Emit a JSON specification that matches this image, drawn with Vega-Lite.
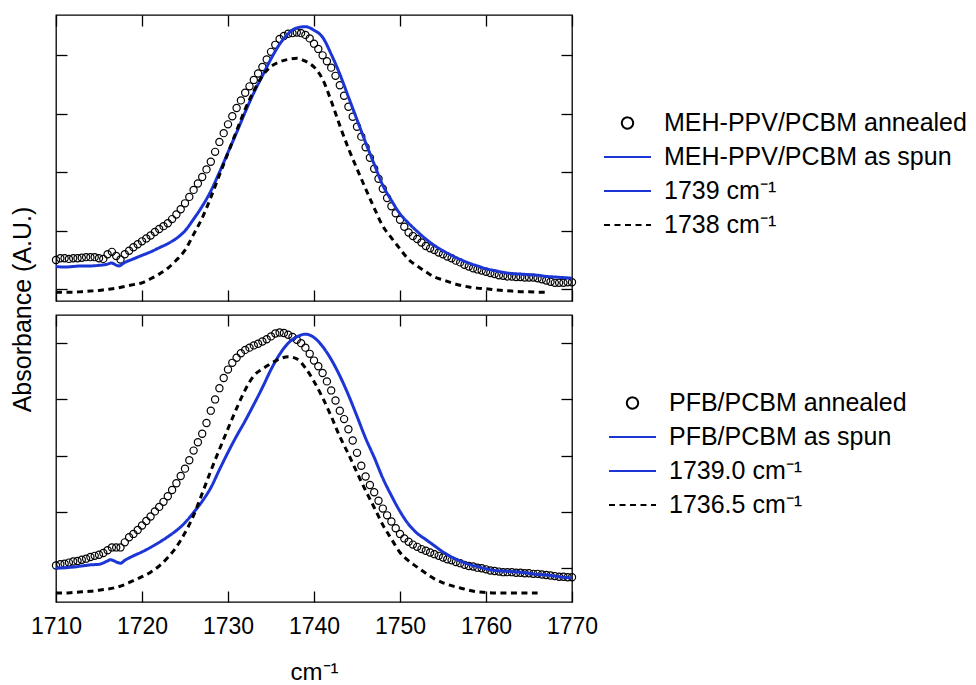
{
  "$schema": "https://vega.github.io/schema/vega-lite/v6.json",
  "padding": {"left": 9, "top": 13, "right": 5, "bottom": 5},
  "background": "white",
  "bounds": "flush",
  "spacing": 14,
  "config": {
    "font": "Liberation Sans",
    "view": {"stroke": "black", "strokeWidth": 1.3},
    "axis": {"domain": false, "grid": false, "ticks": true, "tickSize": -11, "tickColor": "black", "tickWidth": 1.3, "labelFont": "Liberation Sans", "labelFontSize": 23, "labelColor": "black", "titleFont": "Liberation Sans", "titleFontWeight": "normal", "titleColor": "black", "minExtent": 0, "labelFlush": false, "labelOverlap": false, "format": "d"},
    "legend": {"padding": 0, "labelFont": "Liberation Sans", "labelFontSize": 25, "labelColor": "black", "labelLimit": 400, "labelOffset": 12, "rowPadding": 8, "clipHeight": 25, "symbolSize": 2209, "symbolStrokeWidth": 2, "symbolFillColor": "transparent", "symbolOpacity": 1, "title": null}
  },
  "resolve": {"scale": {"color": "independent", "shape": "independent", "strokeDash": "independent", "x": "independent", "y": "independent"}, "legend": {"color": "independent", "shape": "independent", "strokeDash": "independent"}},
  "datasets": {
    "topAnnealed": [
      {"x":1710,"y":0.50},{"x":1710.5,"y":0.53},{"x":1711,"y":0.53},{"x":1711.5,"y":0.52},{"x":1712,"y":0.53},{"x":1712.5,"y":0.53},{"x":1713,"y":0.54},{"x":1713.5,"y":0.55},{"x":1714,"y":0.55},{"x":1714.5,"y":0.55},
      {"x":1715,"y":0.53},{"x":1715.5,"y":0.52},{"x":1716,"y":0.60},{"x":1716.5,"y":0.64},{"x":1717,"y":0.57},{"x":1717.5,"y":0.51},{"x":1718,"y":0.60},{"x":1718.5,"y":0.66},{"x":1719,"y":0.72},{"x":1719.5,"y":0.77},
      {"x":1720,"y":0.82},{"x":1720.5,"y":0.87},{"x":1721,"y":0.92},{"x":1721.5,"y":0.98},{"x":1722,"y":1.03},{"x":1722.5,"y":1.08},{"x":1723,"y":1.13},{"x":1723.5,"y":1.20},{"x":1724,"y":1.28},{"x":1724.5,"y":1.37},
      {"x":1725,"y":1.47},{"x":1725.5,"y":1.58},{"x":1726,"y":1.70},{"x":1726.5,"y":1.81},{"x":1727,"y":1.92},{"x":1727.5,"y":2.05},{"x":1728,"y":2.18},{"x":1728.5,"y":2.35},{"x":1729,"y":2.52},{"x":1729.5,"y":2.67},
      {"x":1730,"y":2.82},{"x":1730.5,"y":2.96},{"x":1731,"y":3.10},{"x":1731.5,"y":3.23},{"x":1732,"y":3.36},{"x":1732.5,"y":3.47},{"x":1733,"y":3.58},{"x":1733.5,"y":3.69},{"x":1734,"y":3.80},{"x":1734.5,"y":3.93},
      {"x":1735,"y":4.06},{"x":1735.5,"y":4.18},{"x":1736,"y":4.28},{"x":1736.5,"y":4.33},{"x":1737,"y":4.37},{"x":1737.5,"y":4.38},{"x":1738,"y":4.39},{"x":1738.5,"y":4.38},{"x":1739,"y":4.35},{"x":1739.5,"y":4.29},
      {"x":1740,"y":4.20},{"x":1740.5,"y":4.11},{"x":1741,"y":4.00},{"x":1741.5,"y":3.90},{"x":1742,"y":3.79},{"x":1742.5,"y":3.65},{"x":1743,"y":3.49},{"x":1743.5,"y":3.31},{"x":1744,"y":3.12},{"x":1744.5,"y":2.95},
      {"x":1745,"y":2.78},{"x":1745.5,"y":2.61},{"x":1746,"y":2.43},{"x":1746.5,"y":2.25},{"x":1747,"y":2.06},{"x":1747.5,"y":1.89},{"x":1748,"y":1.72},{"x":1748.5,"y":1.56},{"x":1749,"y":1.42},{"x":1749.5,"y":1.30},
      {"x":1750,"y":1.19},{"x":1750.5,"y":1.07},{"x":1751,"y":0.97},{"x":1751.5,"y":0.91},{"x":1752,"y":0.86},{"x":1752.5,"y":0.80},{"x":1753,"y":0.74},{"x":1753.5,"y":0.70},{"x":1754,"y":0.67},{"x":1754.5,"y":0.63},
      {"x":1755,"y":0.60},{"x":1755.5,"y":0.56},{"x":1756,"y":0.53},{"x":1756.5,"y":0.49},{"x":1757,"y":0.46},{"x":1757.5,"y":0.42},{"x":1758,"y":0.39},{"x":1758.5,"y":0.36},{"x":1759,"y":0.34},{"x":1759.5,"y":0.32},
      {"x":1760,"y":0.30},{"x":1760.5,"y":0.28},{"x":1761,"y":0.26},{"x":1761.5,"y":0.24},{"x":1762,"y":0.23},{"x":1762.5,"y":0.22},{"x":1763,"y":0.22},{"x":1763.5,"y":0.21},{"x":1764,"y":0.21},{"x":1764.5,"y":0.20},
      {"x":1765,"y":0.20},{"x":1765.5,"y":0.20},{"x":1766,"y":0.19},{"x":1766.5,"y":0.17},{"x":1767,"y":0.15},{"x":1767.5,"y":0.13},{"x":1768,"y":0.11},{"x":1768.5,"y":0.11},{"x":1769,"y":0.11},{"x":1769.5,"y":0.12},{"x":1770,"y":0.12}
    ],
    "topSpun": [
      {"x":1710,"y":0.39},{"x":1711,"y":0.38},{"x":1712,"y":0.39},{"x":1713,"y":0.40},{"x":1714,"y":0.40},{"x":1715,"y":0.41},{"x":1716,"y":0.43},{"x":1716.4,"y":0.45},{"x":1717.3,"y":0.40},{"x":1718,"y":0.46},
      {"x":1719,"y":0.52},{"x":1720,"y":0.58},{"x":1721,"y":0.64},{"x":1722,"y":0.71},{"x":1723,"y":0.78},{"x":1724,"y":0.87},{"x":1725,"y":1.00},{"x":1726,"y":1.20},{"x":1727,"y":1.42},{"x":1728,"y":1.68},
      {"x":1729,"y":2.00},{"x":1730,"y":2.34},{"x":1731,"y":2.68},{"x":1732,"y":3.03},{"x":1733,"y":3.36},{"x":1734,"y":3.65},{"x":1735,"y":3.94},{"x":1736,"y":4.19},{"x":1737,"y":4.37},{"x":1738,"y":4.47},
      {"x":1739,"y":4.49},{"x":1740,"y":4.43},{"x":1741,"y":4.31},{"x":1742,"y":4.02},{"x":1743,"y":3.68},{"x":1744,"y":3.29},{"x":1745,"y":2.90},{"x":1746,"y":2.51},{"x":1747,"y":2.14},{"x":1748,"y":1.78},
      {"x":1749,"y":1.52},{"x":1750,"y":1.29},{"x":1751,"y":1.13},{"x":1752,"y":0.99},{"x":1753,"y":0.86},{"x":1754,"y":0.75},{"x":1755,"y":0.66},{"x":1756,"y":0.58},{"x":1757,"y":0.51},{"x":1758,"y":0.45},
      {"x":1759,"y":0.40},{"x":1760,"y":0.35},{"x":1761,"y":0.32},{"x":1762,"y":0.29},{"x":1763,"y":0.27},{"x":1764,"y":0.26},{"x":1765,"y":0.25},{"x":1766,"y":0.24},{"x":1767,"y":0.22},{"x":1768,"y":0.21},
      {"x":1769,"y":0.20},{"x":1770,"y":0.19}
    ],
    "topFit": [
      {"x":1710,"y":-0.05},{"x":1711,"y":-0.05},{"x":1712,"y":-0.05},{"x":1713,"y":-0.04},{"x":1714,"y":-0.03},{"x":1715,"y":-0.02},{"x":1716,"y":0.00},{"x":1717,"y":0.02},{"x":1718,"y":0.05},{"x":1719,"y":0.08},
      {"x":1720,"y":0.11},{"x":1721,"y":0.18},{"x":1722,"y":0.26},{"x":1723,"y":0.36},{"x":1724,"y":0.50},{"x":1725,"y":0.67},{"x":1726,"y":0.94},{"x":1727,"y":1.22},{"x":1728,"y":1.57},{"x":1729,"y":1.95},
      {"x":1730,"y":2.33},{"x":1731,"y":2.71},{"x":1732,"y":3.08},{"x":1733,"y":3.39},{"x":1734,"y":3.65},{"x":1735,"y":3.81},{"x":1736,"y":3.89},{"x":1737,"y":3.93},{"x":1738,"y":3.95},{"x":1739,"y":3.90},
      {"x":1740,"y":3.80},{"x":1741,"y":3.59},{"x":1742,"y":3.22},{"x":1743,"y":2.80},{"x":1744,"y":2.41},{"x":1745,"y":2.06},{"x":1746,"y":1.72},{"x":1747,"y":1.39},{"x":1748,"y":1.08},{"x":1749,"y":0.88},
      {"x":1750,"y":0.69},{"x":1751,"y":0.51},{"x":1752,"y":0.40},{"x":1753,"y":0.30},{"x":1754,"y":0.21},{"x":1755,"y":0.16},{"x":1756,"y":0.11},{"x":1757,"y":0.07},{"x":1758,"y":0.04},{"x":1759,"y":0.02},
      {"x":1760,"y":0.01},{"x":1761,"y":-0.01},{"x":1762,"y":-0.02},{"x":1763,"y":-0.03},{"x":1764,"y":-0.04},{"x":1765,"y":-0.04},{"x":1766,"y":-0.05},{"x":1767,"y":-0.05}
    ],
    "botAnnealed": [
      {"x":1710,"y":0.05},{"x":1710.5,"y":0.07},{"x":1711,"y":0.08},{"x":1711.5,"y":0.10},{"x":1712,"y":0.12},{"x":1712.5,"y":0.13},{"x":1713,"y":0.15},{"x":1713.5,"y":0.17},{"x":1714,"y":0.20},{"x":1714.5,"y":0.22},
      {"x":1715,"y":0.24},{"x":1715.5,"y":0.27},{"x":1716,"y":0.32},{"x":1716.5,"y":0.37},{"x":1717,"y":0.37},{"x":1717.5,"y":0.37},{"x":1718,"y":0.46},{"x":1718.5,"y":0.55},{"x":1719,"y":0.61},{"x":1719.5,"y":0.68},
      {"x":1720,"y":0.76},{"x":1720.5,"y":0.84},{"x":1721,"y":0.92},{"x":1721.5,"y":1.01},{"x":1722,"y":1.09},{"x":1722.5,"y":1.18},{"x":1723,"y":1.28},{"x":1723.5,"y":1.39},{"x":1724,"y":1.51},{"x":1724.5,"y":1.64},
      {"x":1725,"y":1.77},{"x":1725.5,"y":1.92},{"x":1726,"y":2.09},{"x":1726.5,"y":2.24},{"x":1727,"y":2.39},{"x":1727.5,"y":2.58},{"x":1728,"y":2.80},{"x":1728.5,"y":3.00},{"x":1729,"y":3.20},{"x":1729.5,"y":3.38},
      {"x":1730,"y":3.53},{"x":1730.5,"y":3.65},{"x":1731,"y":3.74},{"x":1731.5,"y":3.82},{"x":1732,"y":3.88},{"x":1732.5,"y":3.92},{"x":1733,"y":3.96},{"x":1733.5,"y":3.99},{"x":1734,"y":4.03},{"x":1734.5,"y":4.07},
      {"x":1735,"y":4.12},{"x":1735.5,"y":4.17},{"x":1736,"y":4.19},{"x":1736.5,"y":4.18},{"x":1737,"y":4.15},{"x":1737.5,"y":4.11},{"x":1738,"y":4.06},{"x":1738.5,"y":4.00},{"x":1739,"y":3.92},{"x":1739.5,"y":3.81},
      {"x":1740,"y":3.69},{"x":1740.5,"y":3.59},{"x":1741,"y":3.47},{"x":1741.5,"y":3.32},{"x":1742,"y":3.16},{"x":1742.5,"y":2.98},{"x":1743,"y":2.80},{"x":1743.5,"y":2.65},{"x":1744,"y":2.47},{"x":1744.5,"y":2.27},
      {"x":1745,"y":2.05},{"x":1745.5,"y":1.82},{"x":1746,"y":1.63},{"x":1746.5,"y":1.48},{"x":1747,"y":1.35},{"x":1747.5,"y":1.20},{"x":1748,"y":1.06},{"x":1748.5,"y":0.94},{"x":1749,"y":0.83},{"x":1749.5,"y":0.71},
      {"x":1750,"y":0.61},{"x":1750.5,"y":0.53},{"x":1751,"y":0.47},{"x":1751.5,"y":0.42},{"x":1752,"y":0.38},{"x":1752.5,"y":0.34},{"x":1753,"y":0.31},{"x":1753.5,"y":0.28},{"x":1754,"y":0.25},{"x":1754.5,"y":0.22},
      {"x":1755,"y":0.19},{"x":1755.5,"y":0.16},{"x":1756,"y":0.14},{"x":1756.5,"y":0.11},{"x":1757,"y":0.09},{"x":1757.5,"y":0.06},{"x":1758,"y":0.04},{"x":1758.5,"y":0.03},{"x":1759,"y":0.01},{"x":1759.5,"y":0.00},
      {"x":1760,"y":-0.02},{"x":1760.5,"y":-0.04},{"x":1761,"y":-0.05},{"x":1761.5,"y":-0.06},{"x":1762,"y":-0.07},{"x":1762.5,"y":-0.07},{"x":1763,"y":-0.07},{"x":1763.5,"y":-0.08},{"x":1764,"y":-0.08},{"x":1764.5,"y":-0.09},
      {"x":1765,"y":-0.09},{"x":1765.5,"y":-0.10},{"x":1766,"y":-0.10},{"x":1766.5,"y":-0.11},{"x":1767,"y":-0.12},{"x":1767.5,"y":-0.13},{"x":1768,"y":-0.14},{"x":1768.5,"y":-0.15},{"x":1769,"y":-0.15},{"x":1769.5,"y":-0.16},{"x":1770,"y":-0.16}
    ],
    "botSpun": [
      {"x":1710,"y":0.00},{"x":1711,"y":0.01},{"x":1712,"y":0.02},{"x":1713,"y":0.04},{"x":1714,"y":0.06},{"x":1715,"y":0.07},{"x":1716,"y":0.13},{"x":1716.3,"y":0.15},{"x":1717.5,"y":0.09},{"x":1718,"y":0.14},
      {"x":1719,"y":0.22},{"x":1720,"y":0.29},{"x":1721,"y":0.37},{"x":1722,"y":0.46},{"x":1723,"y":0.56},{"x":1724,"y":0.67},{"x":1725,"y":0.81},{"x":1726,"y":0.99},{"x":1727,"y":1.19},{"x":1728,"y":1.43},
      {"x":1729,"y":1.75},{"x":1730,"y":2.06},{"x":1731,"y":2.35},{"x":1732,"y":2.62},{"x":1733,"y":2.91},{"x":1734,"y":3.21},{"x":1735,"y":3.53},{"x":1736,"y":3.80},{"x":1737,"y":4.00},{"x":1738,"y":4.11},
      {"x":1739,"y":4.16},{"x":1740,"y":4.10},{"x":1741,"y":3.94},{"x":1742,"y":3.71},{"x":1743,"y":3.42},{"x":1744,"y":3.08},{"x":1745,"y":2.70},{"x":1746,"y":2.31},{"x":1747,"y":1.97},{"x":1748,"y":1.60},
      {"x":1749,"y":1.29},{"x":1750,"y":1.01},{"x":1751,"y":0.78},{"x":1752,"y":0.62},{"x":1753,"y":0.51},{"x":1754,"y":0.40},{"x":1755,"y":0.29},{"x":1756,"y":0.20},{"x":1757,"y":0.13},{"x":1758,"y":0.07},
      {"x":1759,"y":0.03},{"x":1760,"y":-0.01},{"x":1761,"y":-0.04},{"x":1762,"y":-0.05},{"x":1763,"y":-0.06},{"x":1764,"y":-0.07},{"x":1765,"y":-0.09},{"x":1766,"y":-0.11},{"x":1767,"y":-0.12},{"x":1768,"y":-0.14},
      {"x":1769,"y":-0.16},{"x":1770,"y":-0.17}
    ],
    "botFit": [
      {"x":1710,"y":-0.44},{"x":1711,"y":-0.44},{"x":1712,"y":-0.43},{"x":1713,"y":-0.42},{"x":1714,"y":-0.41},{"x":1715,"y":-0.39},{"x":1716,"y":-0.37},{"x":1717,"y":-0.34},{"x":1718,"y":-0.29},{"x":1719,"y":-0.22},
      {"x":1720,"y":-0.15},{"x":1721,"y":-0.07},{"x":1722,"y":0.04},{"x":1723,"y":0.19},{"x":1724,"y":0.38},{"x":1725,"y":0.63},{"x":1726,"y":0.94},{"x":1727,"y":1.33},{"x":1728,"y":1.73},{"x":1729,"y":2.11},
      {"x":1730,"y":2.48},{"x":1731,"y":2.84},{"x":1732,"y":3.17},{"x":1733,"y":3.42},{"x":1734,"y":3.54},{"x":1735,"y":3.64},{"x":1736,"y":3.72},{"x":1737,"y":3.76},{"x":1738,"y":3.72},{"x":1739,"y":3.56},
      {"x":1740,"y":3.32},{"x":1741,"y":3.03},{"x":1742,"y":2.70},{"x":1743,"y":2.34},{"x":1744,"y":2.03},{"x":1745,"y":1.70},{"x":1746,"y":1.38},{"x":1747,"y":1.08},{"x":1748,"y":0.77},{"x":1749,"y":0.52},
      {"x":1750,"y":0.28},{"x":1751,"y":0.13},{"x":1752,"y":0.02},{"x":1753,"y":-0.09},{"x":1754,"y":-0.19},{"x":1755,"y":-0.26},{"x":1756,"y":-0.31},{"x":1757,"y":-0.35},{"x":1758,"y":-0.39},{"x":1759,"y":-0.42},
      {"x":1760,"y":-0.43},{"x":1761,"y":-0.44},{"x":1762,"y":-0.44},{"x":1763,"y":-0.44},{"x":1764,"y":-0.44},{"x":1765,"y":-0.44},{"x":1766,"y":-0.44}
    ]
  },
  "vconcat": [
    {
      "width": 516,
      "height": 286,
      "resolve": {"axis": {"x": "independent", "y": "independent"}},
      "layer": [
        {
          "data": {"name": "topAnnealed"},
          "mark": {"type": "point", "filled": false, "size": 900, "strokeWidth": 1.2, "opacity": 1},
          "encoding": {
            "x": {"field": "x", "type": "quantitative", "scale": {"domain": [1710, 1770], "nice": false, "zero": false}, "axis": {"orient": "bottom", "values": [1710, 1720, 1730, 1740, 1750, 1760, 1770], "labels": false, "title": null}},
            "y": {"field": "y", "type": "quantitative", "scale": {"domain": [-0.2, 4.69], "nice": false, "zero": false}, "axis": {"orient": "left", "values": [0, 1, 2, 3, 4], "labels": false, "title": "Absorbance (A.U.)", "titleFontSize": 25, "titleAngle": 270, "titleAlign": "center", "titleBaseline": "alphabetic", "titleX": -26, "titleY": 294}},
            "color": {
              "datum": "MEH-PPV/PCBM annealed", "type": "nominal",
              "scale": {"domain": ["MEH-PPV/PCBM annealed", "MEH-PPV/PCBM as spun", "1739 cm⁻¹", "1738 cm⁻¹"], "range": ["black", "#1c36d6", "#1c36d6", "black"]},
              "legend": {"orient": "none", "legendX": 547, "legendY": 95.5}
            },
            "shape": {
              "datum": "MEH-PPV/PCBM annealed", "type": "nominal",
              "scale": {"domain": ["MEH-PPV/PCBM annealed", "MEH-PPV/PCBM as spun", "1739 cm⁻¹", "1738 cm⁻¹"], "range": ["M0.24,0A0.24,0.24,0,1,1,-0.24,0A0.24,0.24,0,1,1,0.24,0Z", "M-1,0L1,0", "M-1,0L1,0", "M-1,0L1,0"]},
              "legend": {"orient": "none", "legendX": 547, "legendY": 95.5}
            }
          }
        },
        {
          "data": {"name": "topSpun"},
          "mark": {"type": "line", "strokeWidth": 3, "interpolate": "monotone"},
          "encoding": {
            "x": {"field": "x", "type": "quantitative", "scale": {"domain": [1710, 1770], "nice": false, "zero": false}, "axis": {"orient": "top", "values": [1710, 1720, 1730, 1740, 1750, 1760, 1770], "labels": false, "title": null}},
            "y": {"field": "y", "type": "quantitative", "scale": {"domain": [-0.2, 4.69], "nice": false, "zero": false}, "axis": {"orient": "right", "values": [0, 1, 2, 3, 4], "labels": false, "title": null}},
            "color": {"datum": "MEH-PPV/PCBM as spun", "type": "nominal"},
            "strokeDash": {
              "datum": "MEH-PPV/PCBM as spun", "type": "nominal",
              "scale": {"domain": ["MEH-PPV/PCBM annealed", "MEH-PPV/PCBM as spun", "1739 cm⁻¹", "1738 cm⁻¹"], "range": [[1, 0], [1, 0], [1, 0], [6, 4.5]]},
              "legend": {"orient": "none", "legendX": 547, "legendY": 95.5}
            }
          }
        },
        {
          "data": {"name": "topFit"},
          "mark": {"type": "line", "strokeWidth": 3, "interpolate": "monotone"},
          "encoding": {
            "x": {"field": "x", "type": "quantitative", "scale": {"domain": [1710, 1770], "nice": false, "zero": false}, "axis": null},
            "y": {"field": "y", "type": "quantitative", "scale": {"domain": [-0.2, 4.69], "nice": false, "zero": false}, "axis": null},
            "color": {"datum": "1738 cm⁻¹", "type": "nominal"},
            "strokeDash": {"datum": "1738 cm⁻¹", "type": "nominal"}
          }
        }
      ]
    },
    {
      "width": 516,
      "height": 287,
      "resolve": {"axis": {"x": "independent", "y": "independent"}},
      "layer": [
        {
          "data": {"name": "botAnnealed"},
          "mark": {"type": "point", "filled": false, "size": 900, "strokeWidth": 1.2, "opacity": 1},
          "encoding": {
            "x": {"field": "x", "type": "quantitative", "scale": {"domain": [1710, 1770], "nice": false, "zero": false}, "axis": {"orient": "bottom", "values": [1710, 1720, 1730, 1740, 1750, 1760, 1770], "labels": true, "format": "d", "labelBaseline": "alphabetic", "labelPadding": 42, "title": "cm⁻¹", "titleFontSize": 24, "titleAlign": "center", "titleBaseline": "alphabetic", "titleX": 258, "titleY": 77}},
            "y": {"field": "y", "type": "quantitative", "scale": {"domain": [-0.6, 4.5], "nice": false, "zero": false}, "axis": {"orient": "left", "values": [0, 1, 2, 3, 4], "labels": false, "title": null}},
            "color": {
              "datum": "PFB/PCBM annealed", "type": "nominal",
              "scale": {"domain": ["PFB/PCBM annealed", "PFB/PCBM as spun", "1739.0 cm⁻¹", "1736.5 cm⁻¹"], "range": ["black", "#1c36d6", "#1c36d6", "black"]},
              "legend": {"orient": "none", "legendX": 552, "legendY": 75.5}
            },
            "shape": {
              "datum": "PFB/PCBM annealed", "type": "nominal",
              "scale": {"domain": ["PFB/PCBM annealed", "PFB/PCBM as spun", "1739.0 cm⁻¹", "1736.5 cm⁻¹"], "range": ["M0.24,0A0.24,0.24,0,1,1,-0.24,0A0.24,0.24,0,1,1,0.24,0Z", "M-1,0L1,0", "M-1,0L1,0", "M-1,0L1,0"]},
              "legend": {"orient": "none", "legendX": 552, "legendY": 75.5}
            }
          }
        },
        {
          "data": {"name": "botSpun"},
          "mark": {"type": "line", "strokeWidth": 3, "interpolate": "monotone"},
          "encoding": {
            "x": {"field": "x", "type": "quantitative", "scale": {"domain": [1710, 1770], "nice": false, "zero": false}, "axis": {"orient": "top", "values": [1710, 1720, 1730, 1740, 1750, 1760, 1770], "labels": false, "title": null}},
            "y": {"field": "y", "type": "quantitative", "scale": {"domain": [-0.6, 4.5], "nice": false, "zero": false}, "axis": {"orient": "right", "values": [0, 1, 2, 3, 4], "labels": false, "title": null}},
            "color": {"datum": "PFB/PCBM as spun", "type": "nominal"},
            "strokeDash": {
              "datum": "PFB/PCBM as spun", "type": "nominal",
              "scale": {"domain": ["PFB/PCBM annealed", "PFB/PCBM as spun", "1739.0 cm⁻¹", "1736.5 cm⁻¹"], "range": [[1, 0], [1, 0], [1, 0], [6, 4.5]]},
              "legend": {"orient": "none", "legendX": 552, "legendY": 75.5}
            }
          }
        },
        {
          "data": {"name": "botFit"},
          "mark": {"type": "line", "strokeWidth": 3, "interpolate": "monotone"},
          "encoding": {
            "x": {"field": "x", "type": "quantitative", "scale": {"domain": [1710, 1770], "nice": false, "zero": false}, "axis": null},
            "y": {"field": "y", "type": "quantitative", "scale": {"domain": [-0.6, 4.5], "nice": false, "zero": false}, "axis": null},
            "color": {"datum": "1736.5 cm⁻¹", "type": "nominal"},
            "strokeDash": {"datum": "1736.5 cm⁻¹", "type": "nominal"}
          }
        }
      ]
    }
  ]
}
